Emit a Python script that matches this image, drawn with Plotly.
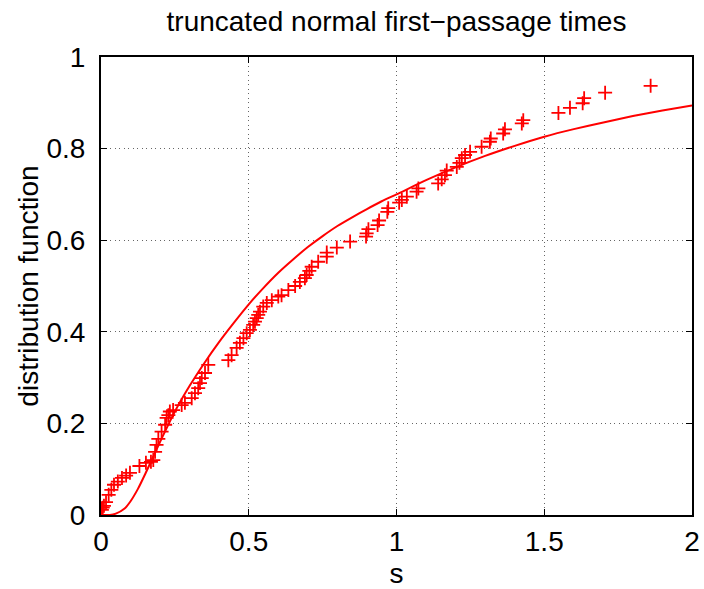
import plotly.graph_objects as go

# Empirical first-passage times (sorted) and their empirical CDF values
sample_s = [0.003, 0.006, 0.010, 0.017, 0.026, 0.035, 0.044, 0.057, 0.071, 0.085,
            0.098, 0.130, 0.152, 0.169, 0.177, 0.183, 0.188, 0.194, 0.205, 0.217,
            0.222, 0.228, 0.233, 0.244, 0.273, 0.284, 0.307, 0.318, 0.329, 0.335,
            0.341, 0.352, 0.363, 0.431, 0.442, 0.459, 0.470, 0.482, 0.493, 0.504,
            0.515, 0.521, 0.527, 0.532, 0.538, 0.549, 0.561, 0.578, 0.600, 0.611,
            0.634, 0.657, 0.673, 0.690, 0.696, 0.705, 0.713, 0.735, 0.764, 0.764,
            0.798, 0.843, 0.897, 0.899, 0.905, 0.936, 0.941, 0.969, 0.972, 1.009,
            1.018, 1.035, 1.068, 1.074, 1.141, 1.153, 1.164, 1.170, 1.204, 1.213,
            1.221, 1.232, 1.249, 1.288, 1.316, 1.319, 1.361, 1.367, 1.424, 1.429,
            1.548, 1.587, 1.630, 1.635, 1.706, 1.860]
sample_F = [0.011, 0.016, 0.020, 0.028, 0.044, 0.055, 0.066, 0.073, 0.081, 0.086,
            0.092, 0.107, 0.114, 0.116, 0.120, 0.138, 0.153, 0.166, 0.182, 0.197,
            0.212, 0.218, 0.226, 0.229, 0.240, 0.245, 0.255, 0.266, 0.277, 0.288,
            0.299, 0.310, 0.328, 0.338, 0.349, 0.365, 0.376, 0.386, 0.397, 0.404,
            0.415, 0.422, 0.430, 0.437, 0.444, 0.455, 0.463, 0.469, 0.477, 0.480,
            0.491, 0.500, 0.509, 0.517, 0.524, 0.533, 0.542, 0.553, 0.564, 0.573,
            0.584, 0.597, 0.608, 0.615, 0.624, 0.633, 0.643, 0.662, 0.670, 0.682,
            0.688, 0.695, 0.706, 0.713, 0.724, 0.733, 0.742, 0.752, 0.760, 0.769,
            0.779, 0.786, 0.793, 0.804, 0.815, 0.822, 0.833, 0.842, 0.855, 0.862,
            0.878, 0.889, 0.899, 0.910, 0.922, 0.937]

# Theoretical distribution function
model_s = [0.0, 0.03, 0.05, 0.08, 0.10, 0.125, 0.15, 0.175, 0.20, 0.25, 0.30,
           0.35, 0.40, 0.45, 0.50, 0.55, 0.60, 0.65, 0.70, 0.75, 0.80, 0.85,
           0.90, 0.95, 1.00, 1.10, 1.20, 1.30, 1.40, 1.50, 1.60, 1.70, 1.80,
           1.90, 2.00]
model_F = [0.0, 0.0, 0.003, 0.014, 0.030, 0.057, 0.090, 0.125, 0.160, 0.226,
           0.282, 0.332, 0.378, 0.420, 0.460, 0.496, 0.529, 0.558, 0.585, 0.609,
           0.631, 0.650, 0.668, 0.685, 0.700, 0.731, 0.759, 0.784, 0.806, 0.826,
           0.8425, 0.857, 0.871, 0.883, 0.894]

x_ticks = [0, 0.5, 1, 1.5, 2]
x_tick_text = ["0", "0.5", "1", "1.5", "2"]
y_ticks = [0, 0.2, 0.4, 0.6, 0.8, 1]
y_tick_text = ["0", "0.2", "0.4", "0.6", "0.8", "1"]

FONT = "Liberation Sans, Arial, Helvetica, sans-serif"
FS = 28

fig = go.Figure()
fig.add_trace(go.Scatter(
    x=model_s, y=model_F, mode="lines", line_shape="spline",
    line=dict(color="#ff0000", width=2, smoothing=0.6),
    showlegend=False, cliponaxis=True))
fig.add_trace(go.Scatter(
    x=sample_s, y=sample_F, mode="markers",
    marker=dict(symbol="cross-thin", size=10, color="#ff0000",
                line=dict(color="#ff0000", width=1.8)),
    showlegend=False, cliponaxis=True))

axis_common = dict(
    showline=True, linecolor="black", linewidth=2, mirror="allticks",
    ticks="inside", ticklen=6, tickwidth=1, tickcolor="black",
    showgrid=True, gridcolor="#666666", gridwidth=1.2, griddash="1px,3.5px",
    zeroline=False, automargin=False,
    tickfont=dict(family=FONT, size=FS, color="black"),
)

fig.update_xaxes(range=[0, 2], tickvals=x_ticks, ticktext=x_tick_text,
                 ticklabelstandoff=0,
                 title=dict(text="s", font=dict(family=FONT, size=FS, color="black"),
                            standoff=9),
                 **axis_common)
fig.update_yaxes(range=[0, 1], tickvals=y_ticks, ticktext=y_tick_text,
                 ticklabelstandoff=8,
                 title=dict(text="distribution function",
                            font=dict(family=FONT, size=FS, color="black"),
                            standoff=0),
                 **axis_common)

fig.update_layout(
    width=704, height=589,
    margin=dict(l=101, r=12, t=57, b=74),
    paper_bgcolor="white", plot_bgcolor="white",
    title=dict(text="truncated normal first\u2212passage times",
               font=dict(family=FONT, size=FS, color="black"),
               x=0.5, xanchor="center", xref="paper", y=0.964, yanchor="middle"),
)

fig.write_html("out.html")
